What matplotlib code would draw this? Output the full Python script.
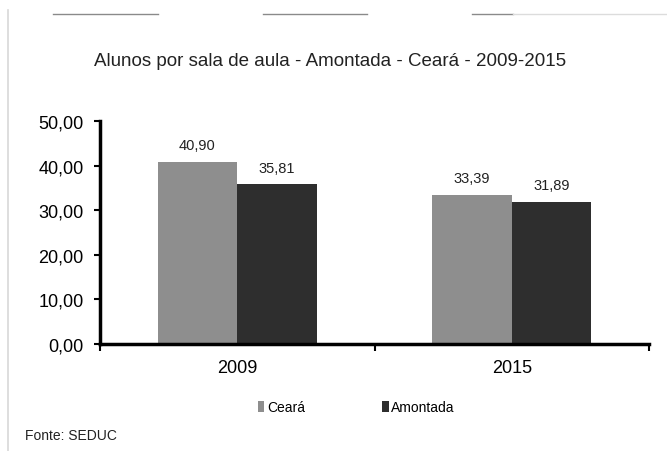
import numpy as np
import matplotlib.pyplot as plt
from matplotlib import font_manager
from matplotlib.lines import Line2D

# dados
anos = ['2009', '2015']
ceara = [40.90, 33.39]
amontada = [35.81, 31.89]
series = ['Ceará', 'Amontada']
cores = ['#8e8e8e', '#2e2e2e']
yticks = [0, 10, 20, 30, 40, 50]

nomes = set(f.name for f in font_manager.fontManager.ttflist)
fonte = 'Liberation Sans Narrow' if 'Liberation Sans Narrow' in nomes else 'Liberation Sans'
plt.rcParams['font.family'] = [fonte, 'DejaVu Sans']

fig = plt.figure(figsize=(6.67, 4.52), dpi=100)
ax = fig.add_axes([0.15, 0.2367, 0.823, 0.4933])

x = np.arange(len(anos))
w = 0.29
b1 = ax.bar(x - w / 2, ceara, w, color=cores[0], label=series[0])
b2 = ax.bar(x + w / 2, amontada, w, color=cores[1], label=series[1])

for barras in [b1, b2]:
    for r in barras:
        v = r.get_height()
        ax.text(r.get_x() + r.get_width() / 2, v + 2.2, ('%.2f' % v).replace('.', ','),
                ha='center', va='bottom', fontsize=10.5, color='#222222')

ax.set_xlim(-0.5, 1.5)
ax.set_ylim(0, 50)
ax.set_yticks(yticks)
ax.set_yticklabels([('%.2f' % t).replace('.', ',') for t in yticks], fontsize=13)
ax.set_xticks(x)
ax.set_xticklabels(anos, fontsize=13)
ax.tick_params(axis='x', length=0, pad=11)
ax.set_xticks([-0.5, 0.5, 1.5], minor=True)
ax.tick_params(axis='x', which='minor', length=5, width=1.5, direction='out')
ax.tick_params(axis='y', length=4, width=1.5, direction='out', pad=8)

for s in ['top', 'right']:
    ax.spines[s].set_visible(False)
for s in ['left', 'bottom']:
    ax.spines[s].set_linewidth(2.5)
    ax.spines[s].set_color('black')

fig.text(0.495, 0.865, 'Alunos por sala de aula - Amontada - Ceará - 2009-2015',
         ha='center', va='center', fontsize=13.5, color='#222222')

leg = fig.legend(handles=[b1, b2], labels=series, loc='center', bbox_to_anchor=(0.534, 0.097),
                 ncol=2, frameon=False, fontsize=10, handlelength=0.5, handleheight=0.9,
                 handletextpad=0.2, columnspacing=5.5)

fig.text(0.037, 0.035, 'Fonte: SEDUC', ha='left', va='center', fontsize=10, color='#222222')

# bordas do recorte digitalizado
fig.add_artist(Line2D([0.012, 0.012], [0.0, 0.975], color='#d8d8d8', lw=1.2))
fig.add_artist(Line2D([53 / 667, 158 / 667], [0.967, 0.967], color='#8a8a8a', lw=1))
fig.add_artist(Line2D([263 / 667, 367 / 667], [0.967, 0.967], color='#8a8a8a', lw=1))
fig.add_artist(Line2D([472 / 667, 513 / 667], [0.967, 0.967], color='#8a8a8a', lw=1))
fig.add_artist(Line2D([513 / 667, 667 / 667], [0.967, 0.967], color='#dcdcdc', lw=1))

fig.savefig('out.png', dpi=100)
